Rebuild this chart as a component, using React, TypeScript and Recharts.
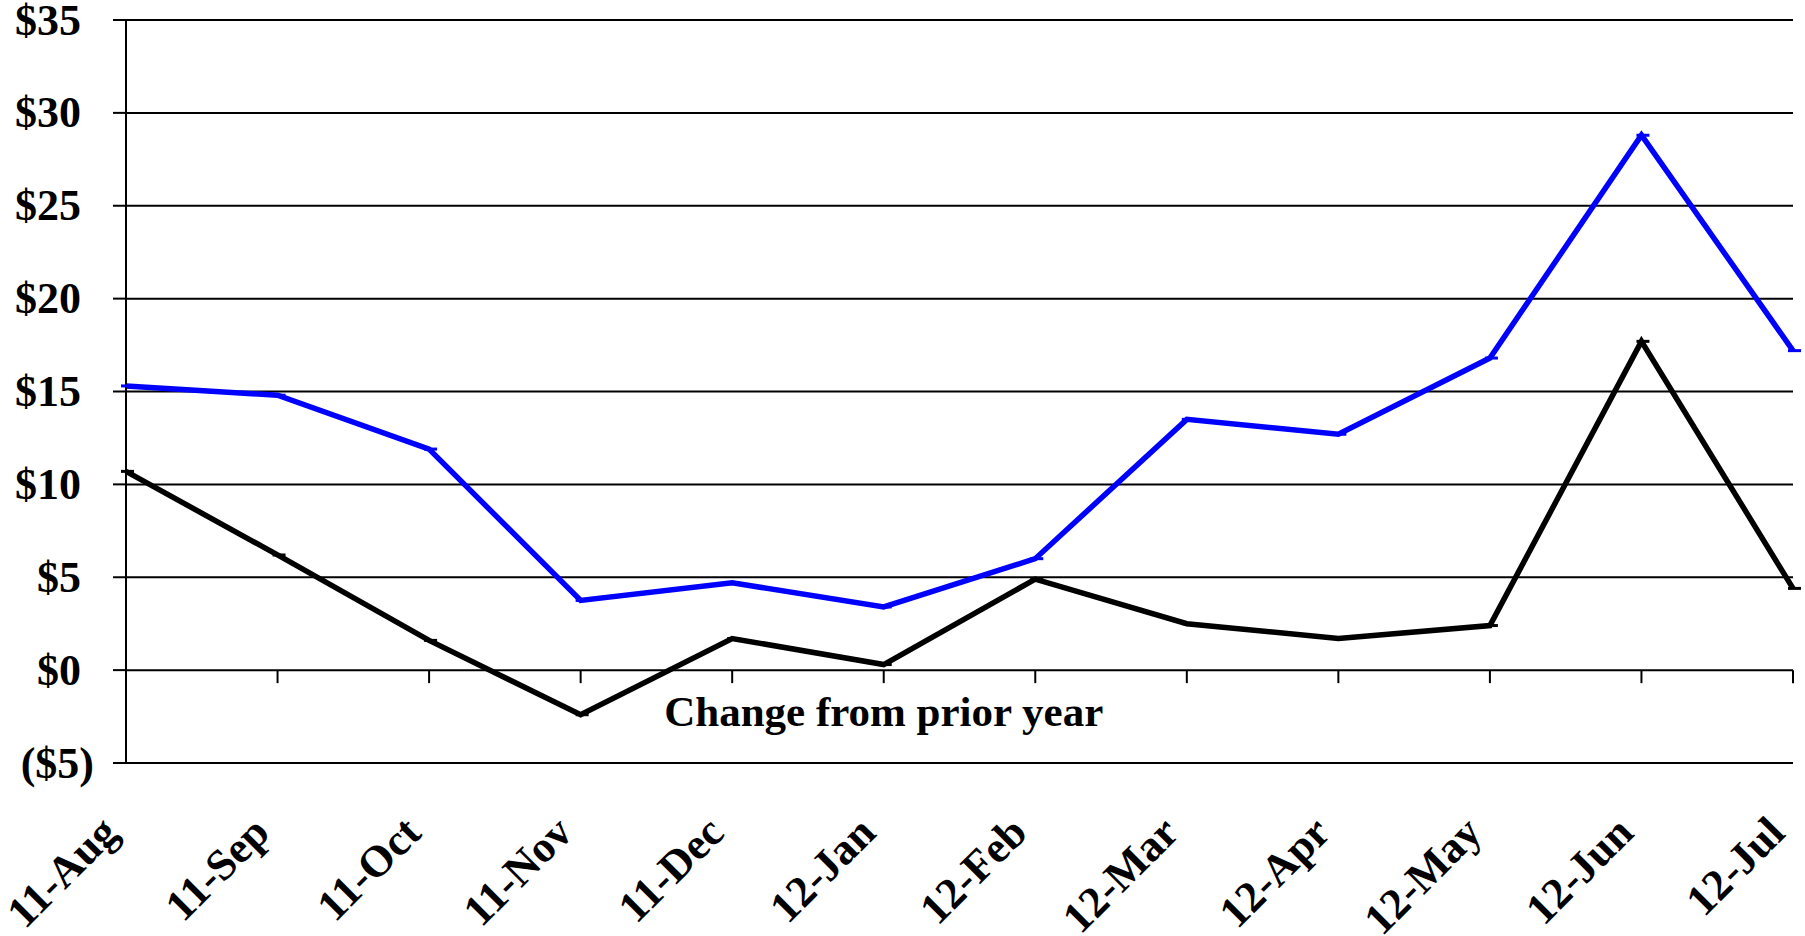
import React from "react";
import {
  LineChart, Line, XAxis, YAxis, CartesianGrid, ReferenceLine, ReferenceDot,
} from "recharts";

const months = [
  "11-Aug", "11-Sep", "11-Oct", "11-Nov", "11-Dec", "12-Jan",
  "12-Feb", "12-Mar", "12-Apr", "12-May", "12-Jun", "12-Jul",
];
const priceSeries = [15.3, 14.8, 11.9, 3.75, 4.7, 3.4, 6.0, 13.5, 12.7, 16.8, 28.8, 17.2];
const changeSeries = [10.7, 6.2, 1.6, -2.4, 1.7, 0.3, 4.9, 2.5, 1.7, 2.4, 17.7, 4.4];
const yTicks = [-5, 0, 5, 10, 15, 20, 25, 30, 35];
const noteText = "Change from prior year";

const data = months.map((m, i) => ({ month: m, price: priceSeries[i], change: changeSeries[i] }));

const FONT = "'Liberation Serif', 'Times New Roman', serif";

// positive values keep room for the ")" like Excel's $#,##0_);($#,##0)
const YTick = ({ y, payload }: any) => {
  const v = payload.value;
  const neg = v < 0;
  const label = neg ? `($${-v})` : `$${v}`;
  return (
    <text x={neg ? 94 : 81} y={y} textAnchor="end" dominantBaseline="central"
      fontFamily={FONT} fontWeight="bold" fontSize={44} fill="#000">
      {label}
    </text>
  );
};

const XTick = ({ x, y, payload }: any) => {
  const ax = x - 6;
  const ay = y + 64;
  return (
    <text x={ax} y={ay} transform={`rotate(-45, ${ax}, ${ay})`} textAnchor="end"
      fontFamily={FONT} fontWeight="bold" fontSize={44} fill="#000">
      {payload.value}
    </text>
  );
};

// short dash marker, like the Excel "-" marker
const dash = (color: string) => (props: any) => {
  const { cx, cy, index } = props;
  return <line key={index} x1={cx - 5} x2={cx + 8} y1={cy} y2={cy} stroke={color} strokeWidth={3} />;
};

export default function App() {
  return (
    <div style={{ position: "absolute", left: 0, top: 0, background: "#fff" }}>
      <LineChart width={1805} height={936} data={data}
        margin={{ top: 20, right: 12, left: 0, bottom: 0 }}>
        <CartesianGrid vertical={false} stroke="#000" strokeWidth={2} />
        <XAxis dataKey="month" height={173} axisLine={false} tickLine={false}
          tick={<XTick />} interval={0} padding={{ left: 0, right: 0 }} />
        <YAxis width={126} domain={[-5, 35]} ticks={yTicks} type="number"
          allowDataOverflow tick={<YTick />} tickSize={13} tickMargin={0}
          axisLine={{ stroke: "#000", strokeWidth: 2 }} tickLine={{ stroke: "#000", strokeWidth: 2 }} />
        {months.map((m) => (
          <ReferenceLine key={m} segment={[{ x: m, y: 0 }, { x: m, y: -0.7 }]}
            stroke="#000" strokeWidth={2} ifOverflow="visible" />
        ))}
        <ReferenceDot x="12-Jan" y={-2.17} r={0} fill="none" stroke="none"
          label={{ value: noteText, position: "center", fontFamily: FONT, fontWeight: "bold", fontSize: 43, fill: "#000" }} />
        <Line dataKey="price" stroke="#0000ff" strokeWidth={5.5} dot={dash("#0000ff")}
          activeDot={false} isAnimationActive={false} strokeLinejoin="miter" />
        <Line dataKey="change" stroke="#000" strokeWidth={5.5} dot={dash("#000")}
          activeDot={false} isAnimationActive={false} strokeLinejoin="miter" />
      </LineChart>
    </div>
  );
}
